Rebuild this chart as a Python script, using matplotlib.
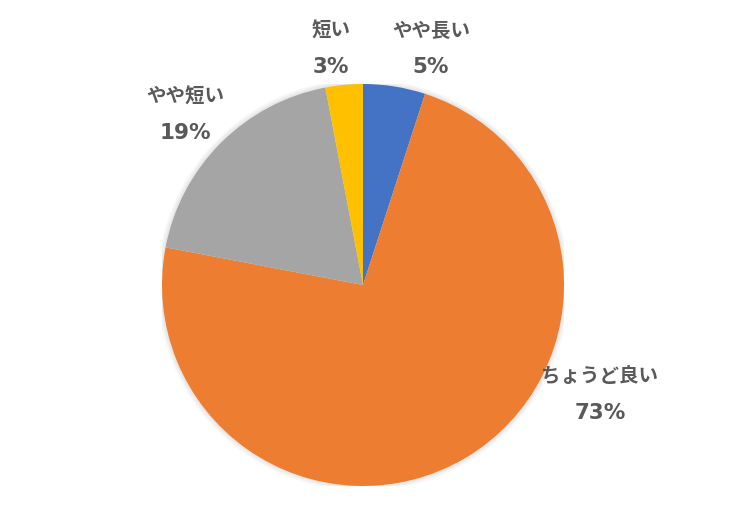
import matplotlib
matplotlib.use("Agg")
import matplotlib.pyplot as plt

plt.rcParams['font.family'] = ['Noto Sans CJK JP', 'DejaVu Sans']

categories = ["やや長い", "ちょうど良い", "やや短い", "短い"]
values = [5, 73, 19, 3]
colors = ["#4472C4", "#ED7D31", "#A5A5A5", "#FFC000"]

# label positions (data coords, radius = 1)
label_pos = [(0.338, 1.174), (1.179, -0.547), (-0.886, 0.846), (-0.159, 1.174)]

fig = plt.figure(figsize=(7.5, 5.14), dpi=100)
R_PX = 201
ax = fig.add_axes([162/750, 28/514, 402/750, 402/514])
ax.set_xlim(-1, 1)
ax.set_ylim(-1, 1)
ax.set_aspect('equal')
ax.axis('off')

# soft shadow
for i in range(3):
    c = plt.Circle((0, 0), 1.0 + 0.008 * (i + 1), color='#000000', alpha=0.03, lw=0, zorder=0)
    ax.add_patch(c)

ax.pie(values, colors=colors, startangle=90, counterclock=False, radius=1,
       wedgeprops=dict(linewidth=0))

half = 18 / R_PX
for cat, v, (x, y) in zip(categories, values, label_pos):
    ax.text(x, y + half, cat, ha='center', va='center', fontsize=14,
            fontweight='bold', color='#595959', clip_on=False)
    ax.text(x, y - half, f"{v}%", ha='center', va='center', fontsize=15.5,
            fontweight='bold', color='#595959', clip_on=False,
            family=['DejaVu Sans'])

ax.set_xlim(-1, 1)
ax.set_ylim(-1, 1)
fig.savefig("out.png", dpi=100)
